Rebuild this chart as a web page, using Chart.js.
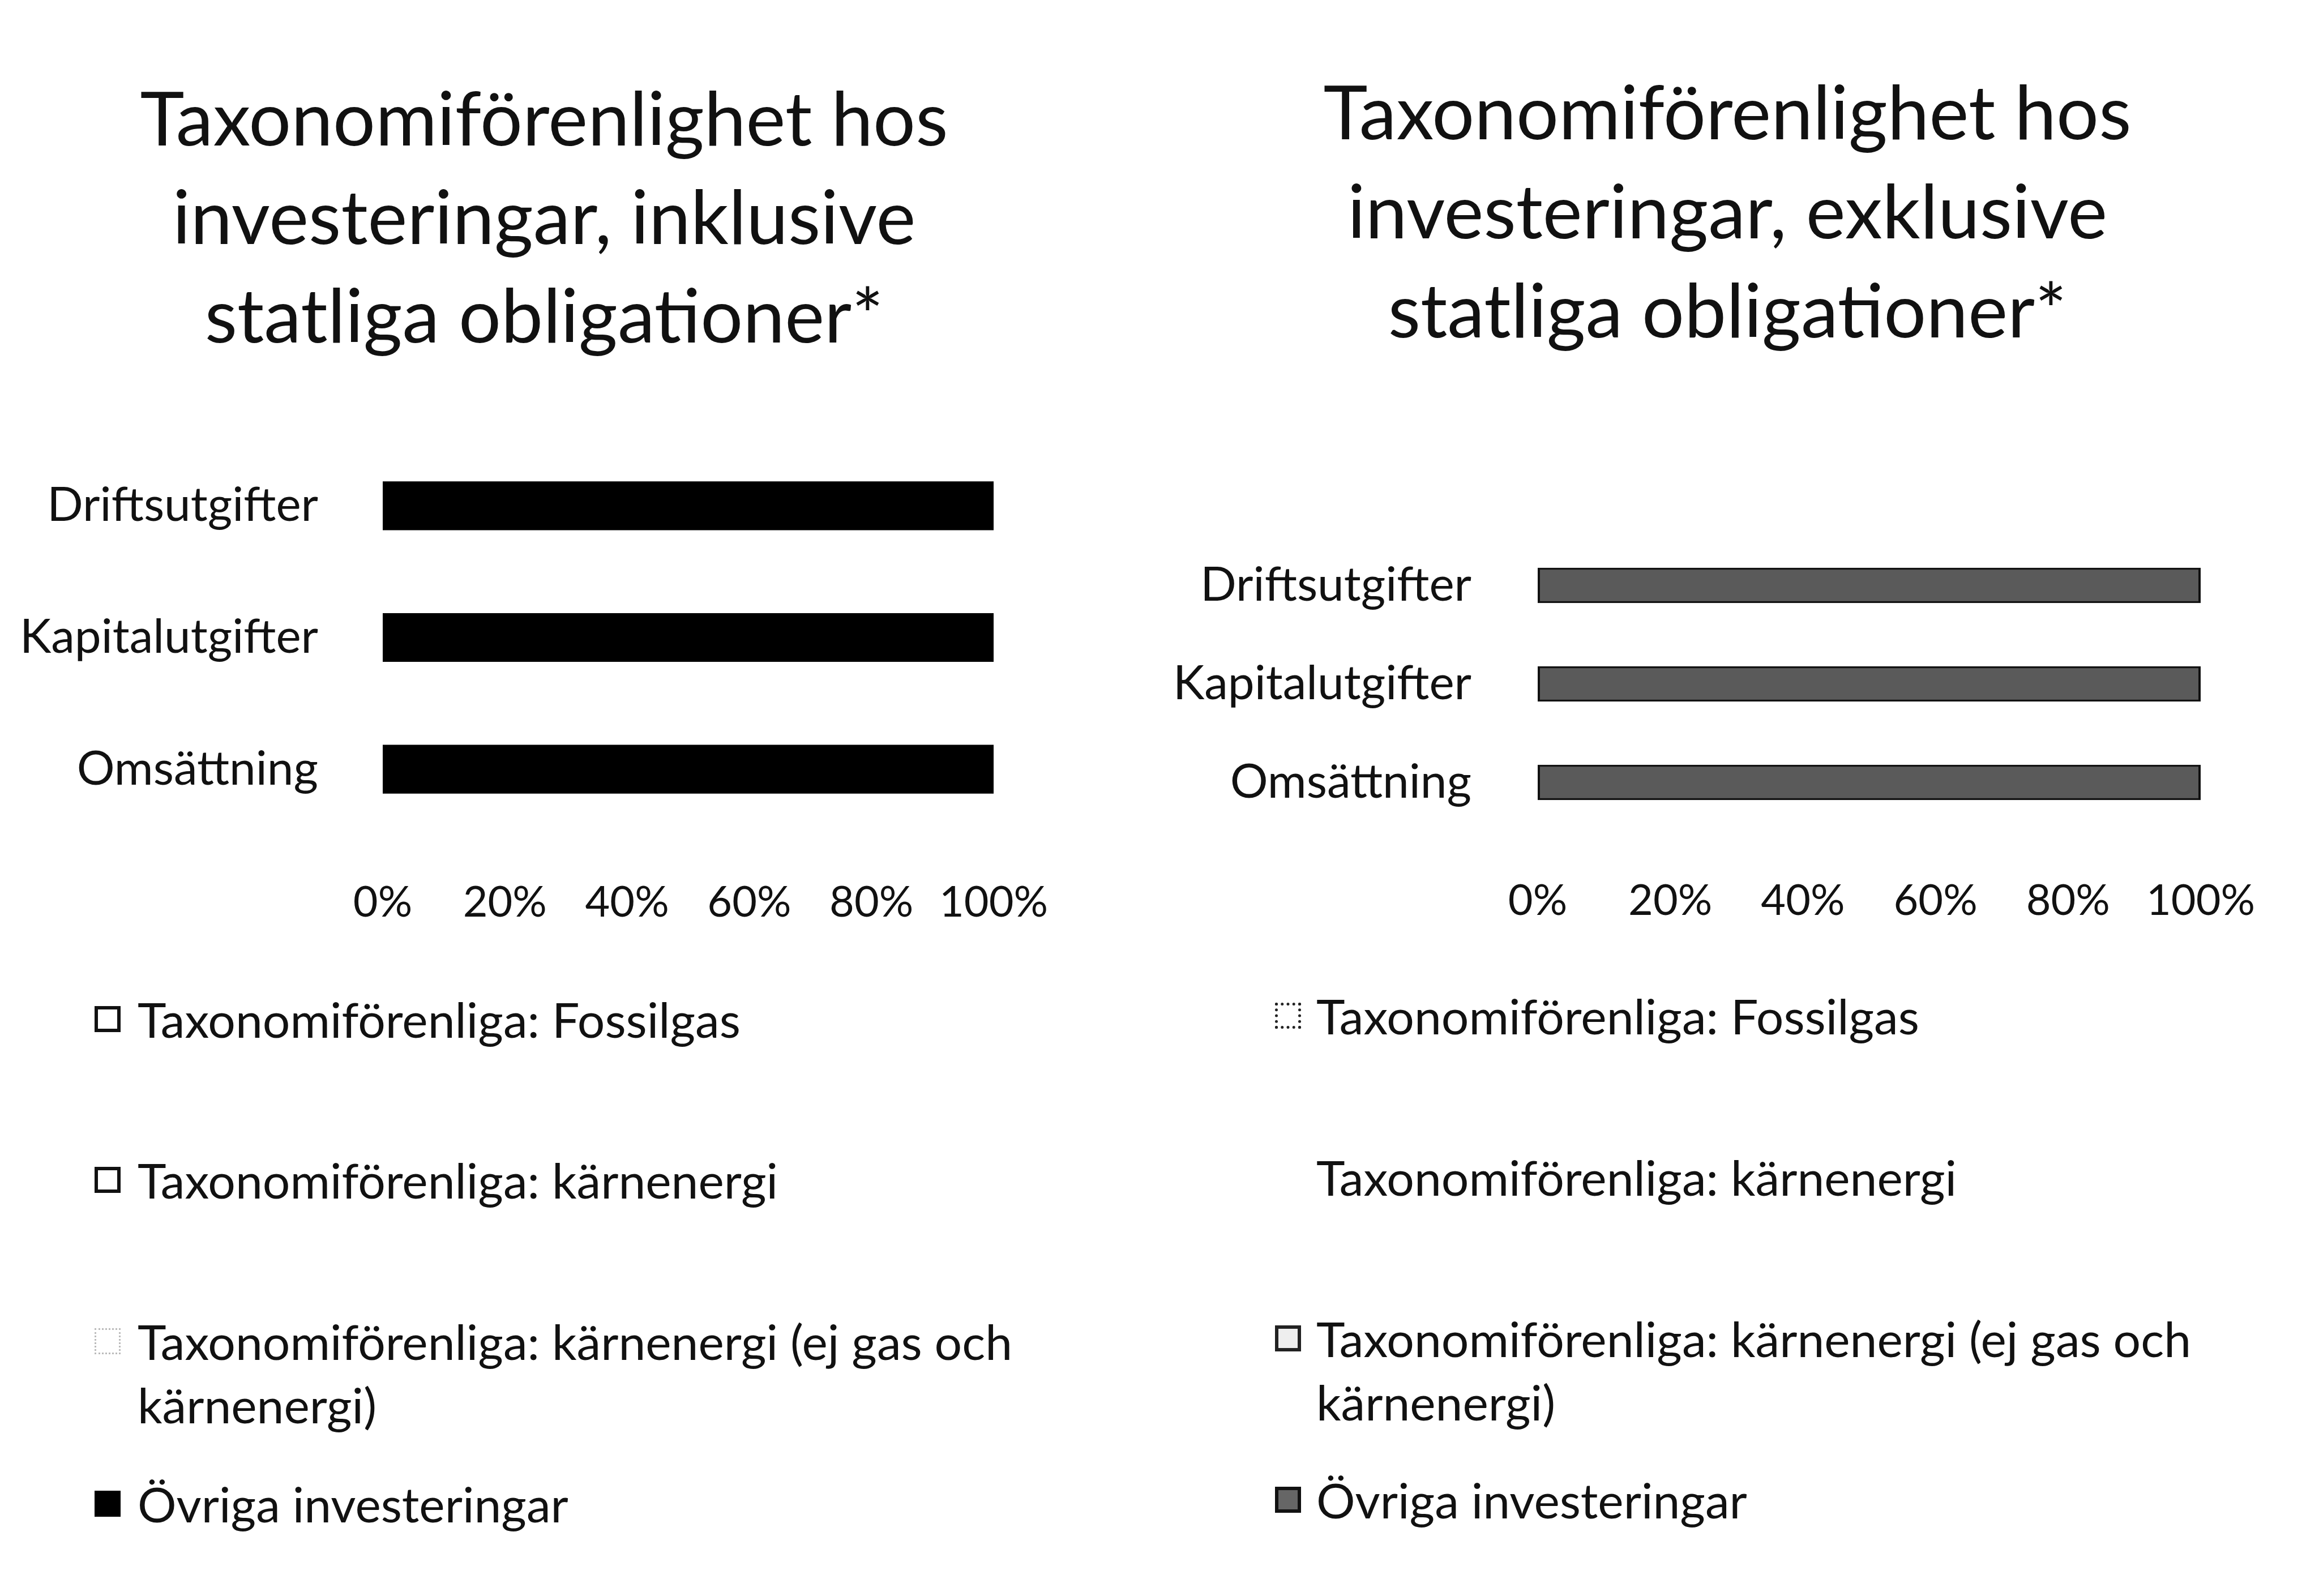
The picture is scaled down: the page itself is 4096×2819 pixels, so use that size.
<!DOCTYPE html>
<html><head><meta charset="utf-8">
<script src="https://cdn.jsdelivr.net/npm/chart.js@4/dist/chart.umd.min.js"></script>
<style>
html,body{margin:0;padding:0;background:#fff;width:4096px;height:2819px;overflow:hidden;}
.box{position:absolute;}
.legend{position:absolute;left:0;top:0;font-family:Lato, "Open Sans", sans-serif;color:#111;}
.mk{position:absolute;box-sizing:border-box;}
.tx{position:absolute;white-space:normal;}
</style></head><body>
<div class="box" style="left:0;top:0;width:2048px;height:1700px"><canvas id="cv1"></canvas></div>
<div class="box" style="left:2048px;top:0;width:2048px;height:1700px"><canvas id="cv2"></canvas></div>
<div id="lg1" class="legend"></div>
<div id="lg2" class="legend"></div>
<script>
// ---- data ----
const categories = ['Driftsutgifter', 'Kapitalutgifter', 'Omsättning'];
const seriesNames = ['Taxonomiförenliga: Fossilgas', 'Taxonomiförenliga: kärnenergi', 'Taxonomiförenliga: kärnenergi (ej gas och kärnenergi)', 'Övriga investeringar'];
const titleInkl = ['Taxonomiförenlighet hos', 'investeringar, inklusive', 'statliga obligationer*'];
const titleExkl = ['Taxonomiförenlighet hos', 'investeringar, exklusive', 'statliga obligationer*'];
const xTickValues = [0, 20, 40, 60, 80, 100];
const inklFossilgas = [0, 0, 0];
const inklKarnenergi = [0, 0, 0];
const inklOvrigTax = [0, 0, 0];
const inklOvriga = [100, 100, 100];
const exklFossilgas = [0, 0, 0];
const exklKarnenergi = [0, 0, 0];
const exklOvrigTax = [0, 0, 0];
const exklOvriga = [100, 100, 100];

// ---- styling ----
const FONT = 'Lato, "Open Sans", sans-serif';
const mctx = document.createElement('canvas').getContext('2d');
function fit(text, target) { mctx.font = '100px ' + FONT; return 100 * target / mctx.measureText(text).width; }
const titleSize = fit('Taxonomiförenlighet hos', 1427);
const catSize = fit('Kapitalutgifter', 527);
const tickSize = fit('100%', 192);
const legendSize = fit('Taxonomiförenliga: Fossilgas', 1065);

function makeChart(canvas, cfg) {
  return new Chart(canvas, {
    type: 'bar',
    data: {
      labels: categories,
      datasets: cfg.values.map((vals, i) => ({
        label: seriesNames[i], data: vals,
        backgroundColor: cfg.colors[i], borderColor: cfg.borders[i], borderWidth: cfg.bw[i],
        borderSkipped: false, barPercentage: cfg.barPct, categoryPercentage: 1
      }))
    },
    options: {
      indexAxis: 'y', responsive: true, maintainAspectRatio: false, animation: false, devicePixelRatio: 1,
      layout: { padding: { left: 0, right: cfg.padR, top: 0, bottom: 0 } },
      plugins: {
        legend: { display: false }, tooltip: { enabled: false },
        title: { display: true, text: cfg.title, color: '#111',
          font: { family: FONT, size: titleSize, weight: 'normal', lineHeight: cfg.titleLH + 'px' },
          padding: { top: cfg.titleTop, bottom: cfg.titleBottom } }
      },
      scales: {
        x: { stacked: true, min: 0, max: 100,
          grid: { display: false, drawTicks: false }, border: { display: false },
          afterBuildTicks: s => { s.ticks = xTickValues.map(v => ({ value: v })); },
          ticks: { callback: v => v + '%', color: '#111', font: { family: FONT, size: tickSize }, padding: cfg.xPad, maxRotation: 0, autoSkip: false },
          afterFit: s => { s.height = cfg.xH; } },
        y: { stacked: true,
          grid: { display: false, drawTicks: false }, border: { display: false },
          ticks: { color: '#111', font: { family: FONT, size: catSize }, padding: cfg.yPad },
          afterFit: s => { s.width = cfg.yW; } },
        yRightSpace: { axis: 'y', type: 'category', position: 'right',
          grid: { display: false, drawTicks: false }, border: { display: false },
          ticks: { display: false },
          afterFit: s => { s.width = cfg.rightW; } }
      }
    }
  });
}

makeChart(document.getElementById('cv1'), {
  values: [inklFossilgas, inklKarnenergi, inklOvrigTax, inklOvriga],
  colors: ['#ffffff', '#ffffff', '#ffffff', '#000000'],
  borders: ['#000', '#000', '#000', '#000'], bw: [0, 0, 0, 0],
  barPct: 0.37, padR: 126, rightW: 167, yW: 676, yPad: 114, xH: 225, xPad: 74,
  title: titleInkl, titleLH: 174, titleTop: 127, titleBottom: 128
});
makeChart(document.getElementById('cv2'), {
  values: [exklFossilgas, exklKarnenergi, exklOvrigTax, exklOvriga],
  colors: ['#ffffff', '#ffffff', '#ffffff', '#5a5a5a'],
  borders: ['#000', '#000', '#000', '#111'], bw: [0, 0, 0, 4],
  barPct: 0.36, padR: 42, rightW: 167, yW: 668, yPad: 117, xH: 231, xPad: 77,
  title: titleExkl, titleLH: 175, titleTop: 116, titleBottom: 306
});

// ---- legends (HTML, built from series names) ----
function buildLegend(el, cfg) {
  const lh = 112;
  seriesNames.forEach((name, i) => {
    const mk = document.createElement('div');
    mk.className = 'mk';
    const s = cfg.markers[i];
    mk.style.left = (cfg.mkX - 23) + 'px';
    mk.style.top = (cfg.rows[i] - 23) + 'px';
    mk.style.width = '46px'; mk.style.height = '46px';
    mk.style.background = s.bg;
    mk.style.border = s.border;
    el.appendChild(mk);
    const tx = document.createElement('div');
    tx.className = 'tx';
    tx.style.left = cfg.txX + 'px';
    tx.style.top = (cfg.rows[i] - lh / 2) + 'px';
    tx.style.width = '1700px';
    tx.style.fontSize = legendSize + 'px';
    tx.style.lineHeight = lh + 'px';
    tx.textContent = name;
    el.appendChild(tx);
  });
}
buildLegend(document.getElementById('lg1'), {
  mkX: 190, txX: 243, rows: [1800, 2084, 2369, 2656],
  markers: [
    { bg: '#fff', border: '6px solid #111' },
    { bg: '#fff', border: '6px solid #111' },
    { bg: 'transparent', border: '3px dotted #bbb' },
    { bg: '#000', border: '0' }
  ]
});
buildLegend(document.getElementById('lg2'), {
  mkX: 2275, txX: 2325, rows: [1794, 2079, 2364, 2649],
  markers: [
    { bg: '#fff', border: '5px dotted #222' },
    { bg: 'transparent', border: '0' },
    { bg: '#eee', border: '6px solid #222' },
    { bg: '#666', border: '6px solid #111' }
  ]
});
</script>
</body></html>
